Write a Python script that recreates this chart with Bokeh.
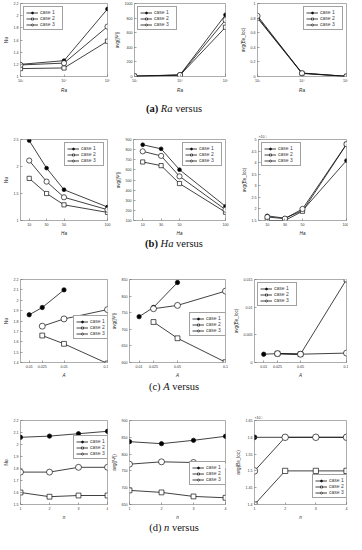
from bokeh.plotting import figure
from bokeh.models import (FixedTicker, CustomJSTickFormatter, Legend, LegendItem,
                          Range1d, Div)
from bokeh.layouts import column, row
from bokeh.embed import file_html
from bokeh.resources import INLINE

# ---------------- data ----------------
CASES = ["case 1", "case 2", "case 3"]

# (a) Ra
ra = [1e3, 1e4, 1e5]
nu_ra = [[1.20, 1.26, 2.11], [1.13, 1.14, 1.58], [1.19, 1.22, 1.82]]
psi_ra = [[5, 22, 845], [4, 18, 675], [5, 20, 774]]
be_ra = [[0.81, 0.048, 0.002], [0.80, 0.042, 0.002], [0.83, 0.045, 0.002]]

# (b) Ha
ha = [10, 30, 50, 100]
nu_ha = [[2.48, 1.97, 1.57, 1.25], [1.78, 1.50, 1.29, 1.15], [2.11, 1.72, 1.43, 1.20]]
psi_ha = [[848, 808, 602, 240], [678, 642, 465, 182], [783, 738, 536, 207]]
be_ha = [[1.70, 1.60, 1.93, 4.09], [1.50, 1.50, 1.90, 4.79], [1.65, 1.58, 2.00, 4.80]]  # x10^-3

# (c) A
a_c1 = [0.01, 0.025, 0.05]
a_c23 = [0.025, 0.05, 0.1]
nu_a = [[1.86, 1.93, 2.10], [1.66, 1.58, 1.39], [1.75, 1.82, 1.91]]
psi_a = [[738, 766, 841], [722, 673, 601], [762, 772, 815]]
be_a = [[0.0015, 0.0016, 0.0015], [0.0016, 0.0015, 0.0150], [0.0016, 0.0015, 0.0017]]

# (d) n
nn = [1, 2, 3, 4]
nu_n = [[2.06, 2.07, 2.09, 2.11], [1.60, 1.565, 1.575, 1.575], [1.77, 1.77, 1.81, 1.81]]
psi_n = [[837, 831, 841, 853], [692, 686, 674, 670], [770, 777, 775, 765]]
be_n = [[1.60, 1.60, 1.60, 1.60], [1.40, 1.50, 1.50, 1.50], [1.50, 1.60, 1.60, 1.60]]  # x10^-3

ra_ticks = [1e3, 1e4, 1e5]
ra_tick_labels = {1000: "10³", 10000: "10⁴", 100000: "10⁵"}

FONT = "Liberation Sans"
FMT = CustomJSTickFormatter(code="return String(tick)")


def panel(xs, ys, xr, yr, xticks, yticks, xlabel, ylabel, width, height,
          lb, rb, tb, bb, legend_loc, log_x=False, title=None, ms=1.0):
    p = figure(width=width, height=height, output_backend="svg", toolbar_location=None,
               x_axis_type="log" if log_x else "linear",
               x_range=Range1d(*xr), y_range=Range1d(*yr),
               min_border_left=lb, min_border_right=rb,
               min_border_top=tb, min_border_bottom=bb)
    p.background_fill_color = "white"
    p.border_fill_color = "white"
    p.outline_line_color = "#8a8a8a"
    p.outline_line_width = 0.7
    p.xgrid.visible = False
    p.ygrid.visible = False
    for ax in (p.xaxis[0], p.yaxis[0]):
        ax.axis_line_color = None
        ax.major_tick_in = 2
        ax.major_tick_out = 0
        ax.major_tick_line_color = "#666666"
        ax.major_tick_line_width = 0.6
        ax.minor_tick_line_color = None
        ax.major_label_text_font = FONT
        ax.major_label_text_font_size = "3.6px"
        ax.major_label_text_color = "#333333"
        ax.major_label_standoff = 2
        ax.axis_label_text_font = FONT
        ax.axis_label_text_font_size = "4.6px"
        ax.axis_label_text_color = "#222222"
        ax.axis_label_standoff = 2
    p.xaxis.ticker = FixedTicker(ticks=xticks)
    p.yaxis.ticker = FixedTicker(ticks=yticks)
    p.yaxis.formatter = FMT
    if log_x:
        p.xaxis.major_label_overrides = ra_tick_labels
    else:
        p.xaxis.formatter = FMT
    p.xaxis.axis_label = xlabel
    p.xaxis.axis_label_text_font_style = "italic"
    p.yaxis.axis_label = ylabel
    p.yaxis.axis_label_text_font_style = "normal"
    if title:
        p.title.text = title
        p.title.text_font = FONT
        p.title.text_font_size = "3.6px"
        p.title.text_font_style = "normal"
        p.title.text_color = "#333333"
        p.title.align = "left"
        p.title.offset = 0
        p.title.standoff = 1

    styles = [
        dict(marker="circle", size=3.8 * ms, fill_color="black"),
        dict(marker="square", size=4.2 * ms, fill_color="white"),
        dict(marker="circle", size=5.2 * ms, fill_color="white"),
    ]
    items = []
    for i in range(3):
        lr = p.line(xs[i], ys[i], line_color="#111111", line_width=0.8)
        sr = p.scatter(xs[i], ys[i], line_color="#111111", line_width=0.7, **styles[i])
        items.append(LegendItem(label=CASES[i], renderers=[lr, sr]))
    leg = Legend(items=items, location=legend_loc)
    leg.label_text_font = FONT
    leg.label_text_font_size = "5px"
    leg.label_height = 5
    leg.glyph_height = 5
    leg.glyph_width = 12
    leg.label_standoff = 2
    leg.spacing = 0
    leg.padding = 2
    leg.margin = 3
    leg.border_line_color = "#444444"
    leg.border_line_width = 0.5
    leg.background_fill_color = "white"
    leg.background_fill_alpha = 1.0
    p.add_layout(leg)
    return p


def caption(html, h):
    return Div(text=html, width=348, height=h, margin=0,
               styles={"text-align": "center", "font-family": "Liberation Serif",
                       "font-size": "10.5px", "line-height": f"{h}px", "color": "#111"})


NU = "Nu"
PSI = "avg(|Ψ|)"
BE = "avg(Be_loc)"

# Row (a)
H1 = 95
r1 = row(
    panel([ra] * 3, nu_ra, (1e3, 1e5), (1, 2.2), ra_ticks, [1, 1.2, 1.4, 1.6, 1.8, 2, 2.2],
          "Ra", NU, 111, H1, 14, 4, 3, 13, "top_left", log_x=True),
    panel([ra] * 3, psi_ra, (1e3, 1e5), (0, 1000), ra_ticks, [0, 200, 400, 600, 800, 1000],
          "Ra", PSI, 126, H1, 20, 12, 3, 13, "top_left", log_x=True),
    panel([ra] * 3, be_ra, (1e3, 1e5), (0, 1), ra_ticks, [0, 0.2, 0.4, 0.6, 0.8, 1],
          "Ra", BE, 111, H1, 16, 2, 3, 13, "top_right", log_x=True),
    spacing=0)

# Row (b)
H2 = 115
r2 = row(
    panel([ha] * 3, nu_ha, (0, 100), (1, 2.5), ha, [1, 1.5, 2, 2.5],
          "Ha", NU, 112, H2, 14, 5, 16, 13, "top_right"),
    panel([ha] * 3, psi_ha, (0, 100), (100, 900), ha, [100, 200, 300, 400, 500, 600, 700, 800, 900],
          "Ha", PSI, 126, H2, 19, 13, 16, 13, "top_right"),
    panel([ha] * 3, be_ha, (0, 100), (1.5, 5), ha, [1.5, 2, 2.5, 3, 3.5, 4, 4.5, 5],
          "Ha", BE, 110, H2, 16, 2, 16, 13, "top_left", title="×10⁻³"),
    spacing=0)

# Row (c)
H3 = 130
a_ticks = [0.01, 0.025, 0.05, 0.1]
r3 = row(
    panel([a_c1, a_c23, a_c23], nu_a, (0, 0.1), (1.4, 2.2), a_ticks,
          [1.4, 1.5, 1.6, 1.7, 1.8, 1.9, 2, 2.1, 2.2],
          "A", NU, 108, H3, 14, 1, 29, 13, (53, 23), ms=1.15),
    panel([a_c1, a_c23, a_c23], psi_a, (0, 0.1), (600, 850), a_ticks,
          [600, 650, 700, 750, 800, 850],
          "A", PSI, 122, H3, 16, 5, 29, 13, (60, 26), ms=1.15),
    panel([a_c1, a_c23, a_c23], be_a, (0, 0.1), (0, 0.015), a_ticks,
          [0, 0.005, 0.01, 0.015],
          "A", BE, 118, H3, 19, 2, 29, 13, "top_left", ms=1.15),
    spacing=0)

# Row (d)
H4 = 128
r4 = row(
    panel([nn] * 3, nu_n, (1, 4), (1.5, 2.2), nn, [1.5, 1.6, 1.7, 1.8, 1.9, 2, 2.1, 2.2],
          "n", NU, 108, H4, 14, 1, 26, 13, (53, 45), ms=1.15),
    panel([nn] * 3, psi_n, (1, 4), (650, 900), nn, [650, 700, 750, 800, 850, 900],
          "n", PSI, 124, H4, 16, 7, 26, 13, (60, 19), ms=1.15),
    panel([nn] * 3, be_n, (1, 4), (1.4, 1.65), nn, [1.4, 1.45, 1.5, 1.55, 1.6, 1.65],
          "n", BE, 116, H4, 18, 2, 26, 13, (58, 6), title="×10⁻³", ms=1.25),
    spacing=0)

page = column(
    r1, caption("<b>(a)</b> <i>Ra</i> versus", 28),
    r2, caption("<b>(b)</b> <i>Ha</i> versus", 12),
    r3, caption("(c) <i>A</i> versus", 14),
    r4, caption("(d) <i>n</i> versus", 12),
    spacing=0)

open("out.html", "w").write(file_html(page, INLINE))
